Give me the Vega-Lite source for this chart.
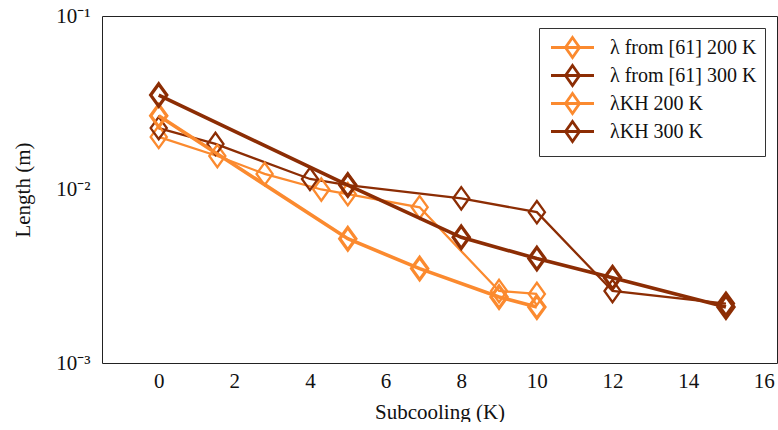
{
  "$schema": "https://vega.github.io/schema/vega-lite/v6.json",
  "width": 675,
  "height": 347,
  "padding": {"left": 12, "top": 5, "right": 1, "bottom": 0},
  "background": "white",
  "config": {
    "view": {"stroke": null},
    "font": "Liberation Serif",
    "axis": {
      "labelFont": "Liberation Serif",
      "titleFont": "Liberation Serif",
      "labelFontSize": 21,
      "titleFontSize": 21,
      "titleFontWeight": "normal",
      "labelColor": "#111",
      "titleColor": "#111",
      "domainColor": "#222",
      "domainWidth": 1,
      "tickColor": "#999999",
      "tickWidth": 1,
      "grid": false,
      "labelFlush": false,
      "labelOverlap": false
    }
  },
  "data": {
    "values": [
      {"series": "λ from [61] 200 K", "kind": "ref", "x": 0, "y": 0.0201},
      {"series": "λ from [61] 200 K", "kind": "ref", "x": 1.55, "y": 0.0156},
      {"series": "λ from [61] 200 K", "kind": "ref", "x": 2.8, "y": 0.0123},
      {"series": "λ from [61] 200 K", "kind": "ref", "x": 4.3, "y": 0.0100},
      {"series": "λ from [61] 200 K", "kind": "ref", "x": 5, "y": 0.0094},
      {"series": "λ from [61] 200 K", "kind": "ref", "x": 6.9, "y": 0.0079},
      {"series": "λ from [61] 200 K", "kind": "ref", "x": 9, "y": 0.0026},
      {"series": "λ from [61] 200 K", "kind": "ref", "x": 10, "y": 0.0025},
      {"series": "λ from [61] 300 K", "kind": "ref", "x": 0, "y": 0.0226},
      {"series": "λ from [61] 300 K", "kind": "ref", "x": 1.5, "y": 0.0183},
      {"series": "λ from [61] 300 K", "kind": "ref", "x": 4, "y": 0.0115},
      {"series": "λ from [61] 300 K", "kind": "ref", "x": 5, "y": 0.0106},
      {"series": "λ from [61] 300 K", "kind": "ref", "x": 8, "y": 0.0089},
      {"series": "λ from [61] 300 K", "kind": "ref", "x": 10, "y": 0.0074},
      {"series": "λ from [61] 300 K", "kind": "ref", "x": 12, "y": 0.0026},
      {"series": "λ from [61] 300 K", "kind": "ref", "x": 15, "y": 0.0022},
      {"series": "λKH 200 K", "kind": "kh", "x": 0, "y": 0.0266},
      {"series": "λKH 200 K", "kind": "kh", "x": 5, "y": 0.0052},
      {"series": "λKH 200 K", "kind": "kh", "x": 6.9, "y": 0.0035},
      {"series": "λKH 200 K", "kind": "kh", "x": 9, "y": 0.0024},
      {"series": "λKH 200 K", "kind": "kh", "x": 10, "y": 0.0021},
      {"series": "λKH 300 K", "kind": "kh", "x": 0, "y": 0.0350},
      {"series": "λKH 300 K", "kind": "kh", "x": 5, "y": 0.0106},
      {"series": "λKH 300 K", "kind": "kh", "x": 8, "y": 0.0053},
      {"series": "λKH 300 K", "kind": "kh", "x": 10, "y": 0.0040},
      {"series": "λKH 300 K", "kind": "kh", "x": 12, "y": 0.0031},
      {"series": "λKH 300 K", "kind": "kh", "x": 15, "y": 0.0021}
    ]
  },
  "layer": [
    {
      "transform": [{"filter": "datum.kind === 'ref'"}],
      "mark": {"type": "line", "strokeWidth": 2.3},
      "encoding": {
        "x": {
          "field": "x", "type": "quantitative",
          "scale": {"domain": [-1.5, 16.35], "nice": false, "zero": false},
          "axis": {
            "orient": "bottom",
            "title": "Subcooling (K)",
            "values": [0, 2, 4, 6, 8, 10, 12, 14, 16],
            "tickSize": 0,
            "labelPadding": 7,
            "titlePadding": 10,
            "encode": {"ticks": {"update": {"y2": {"value": -10}}}}
          }
        },
        "y": {
          "field": "y", "type": "quantitative",
          "scale": {"type": "log", "domain": [0.001, 0.1], "nice": false},
          "axis": {
            "orient": "left",
            "title": "Length (m)",
            "values": [0.001, 0.002, 0.003, 0.004, 0.005, 0.006, 0.007, 0.008, 0.009, 0.01, 0.02, 0.03, 0.04, 0.05, 0.06, 0.07, 0.08, 0.09, 0.1],
            "labelExpr": "datum.value === 0.1 ? '10⁻¹' : datum.value === 0.01 ? '10⁻²' : datum.value === 0.001 ? '10⁻³' : ''",
            "tickSize": 0,
            "labelPadding": 12,
            "titlePadding": 22,
            "encode": {"ticks": {"update": {"x2": {"signal": "abs(log(datum.value)/LN10 - round(log(datum.value)/LN10)) < 0.000001 ? 10 : 6"}}}}
          }
        },
        "color": {
          "field": "series", "type": "nominal",
          "scale": {
            "domain": ["λ from [61] 200 K", "λ from [61] 300 K", "λKH 200 K", "λKH 300 K"],
            "range": ["#fb8a2f", "#8c2d04", "#fb8a2f", "#8c2d04"]
          },
          "legend": {
            "title": null,
            "orient": "top-right",
            "offset": 12,
            "padding": 8,
            "strokeColor": "#333333",
            "fillColor": "white",
            "symbolType": "M-2.15,0H2.15M0,-1L0.7,0L0,1L-0.7,0Z",
            "symbolSize": 400,
            "symbolStrokeWidth": 2.8,
            "symbolFillColor": "transparent",
            "symbolOffset": 14,
            "labelOffset": 26,
            "labelFont": "Liberation Serif",
            "labelFontSize": 20,
            "labelColor": "#111",
            "labelLimit": 400,
            "rowPadding": -7,
            "labelExpr": "indexof(datum.label, 'KH') >= 0 ? '    ' + datum.label : datum.label"
          }
        }
      }
    },
    {
      "transform": [{"filter": "datum.kind === 'ref'"}],
      "mark": {"type": "point", "shape": "M0,-1L0.72,0L0,1L-0.72,0Z", "filled": false, "size": 500, "opacity": 1, "strokeWidth": 2.3},
      "encoding": {
        "x": {"field": "x", "type": "quantitative", "axis": null},
        "y": {"field": "y", "type": "quantitative", "axis": null},
        "color": {"field": "series", "type": "nominal"}
      }
    },
    {
      "transform": [{"filter": "datum.kind === 'kh'"}],
      "mark": {"type": "line", "strokeWidth": 3.6},
      "encoding": {
        "x": {"field": "x", "type": "quantitative", "axis": null},
        "y": {"field": "y", "type": "quantitative", "axis": null},
        "color": {"field": "series", "type": "nominal"}
      }
    },
    {
      "transform": [{"filter": "datum.kind === 'kh'"}],
      "mark": {"type": "point", "shape": "M0,-1L0.72,0L0,1L-0.72,0Z", "filled": false, "size": 500, "opacity": 1, "strokeWidth": 3.3},
      "encoding": {
        "x": {
          "field": "x", "type": "quantitative",
          "axis": {
            "orient": "top",
            "title": null,
            "labels": false,
            "values": [0, 2, 4, 6, 8, 10, 12, 14, 16],
            "tickSize": 0,
            "encode": {"ticks": {"update": {"y2": {"value": 10}}}}
          }
        },
        "y": {
          "field": "y", "type": "quantitative",
          "axis": {
            "orient": "right",
            "title": null,
            "labels": false,
            "values": [0.001, 0.002, 0.003, 0.004, 0.005, 0.006, 0.007, 0.008, 0.009, 0.01, 0.02, 0.03, 0.04, 0.05, 0.06, 0.07, 0.08, 0.09, 0.1],
            "tickSize": 0,
            "encode": {"ticks": {"update": {"x2": {"signal": "abs(log(datum.value)/LN10 - round(log(datum.value)/LN10)) < 0.000001 ? -10 : -6"}}}}
          }
        },
        "color": {"field": "series", "type": "nominal"}
      }
    }
  ],
  "resolve": {"axis": {"x": "independent", "y": "independent"}}
}
